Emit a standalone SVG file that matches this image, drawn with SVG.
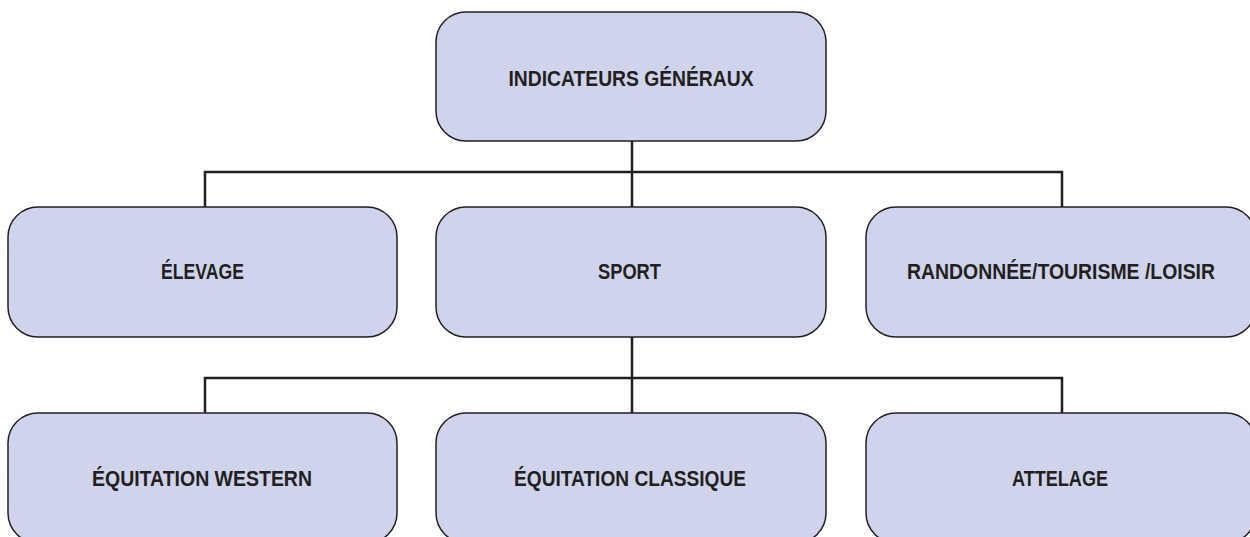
<svg xmlns="http://www.w3.org/2000/svg" width="1250" height="537" viewBox="0 0 1250 537">
<style>
.box{fill:#cfd4ec;stroke:#231f20;stroke-width:1.5}
.lbl{font-family:"Liberation Sans Narrow","Liberation Sans",Arial,sans-serif;font-weight:bold;font-size:22px;fill:#231f20;text-anchor:middle}
.con{fill:none;stroke:#231f20;stroke-width:2.5}
</style>
<rect width="1250" height="537" fill="#ffffff"/>
<g id="connectors">
<path class="con" d="M632,141 V172 M205,207 V172 H1062 V207 M632,172 V207"/>
<path class="con" d="M632,337 V378 M205,413 V378 H1062 V413 M632,378 V413"/>
</g>
<g id="n-indicateurs">
<rect class="box" x="436" y="12" width="390" height="129" rx="30"/>
<text class="lbl" x="631" y="86" textLength="245" lengthAdjust="spacingAndGlyphs">INDICATEURS GÉNÉRAUX</text>
</g>
<g id="n-elevage">
<rect class="box" x="8" y="207" width="389" height="130" rx="30"/>
<text class="lbl" x="202.5" y="279" textLength="83" lengthAdjust="spacingAndGlyphs">ÉLEVAGE</text>
</g>
<g id="n-sport">
<rect class="box" x="436" y="207" width="390" height="130" rx="30"/>
<text class="lbl" x="629.5" y="279" textLength="63" lengthAdjust="spacingAndGlyphs">SPORT</text>
</g>
<g id="n-randonnee">
<rect class="box" x="866" y="207" width="390" height="130" rx="30"/>
<text class="lbl" x="1061" y="279" textLength="308" lengthAdjust="spacingAndGlyphs">RANDONNÉE/TOURISME /LOISIR</text>
</g>
<g id="n-western">
<rect class="box" x="8" y="413" width="389" height="130" rx="30"/>
<text class="lbl" x="202" y="486" textLength="220" lengthAdjust="spacingAndGlyphs">ÉQUITATION WESTERN</text>
</g>
<g id="n-classique">
<rect class="box" x="436" y="413" width="390" height="130" rx="30"/>
<text class="lbl" x="630" y="486" textLength="232" lengthAdjust="spacingAndGlyphs">ÉQUITATION CLASSIQUE</text>
</g>
<g id="n-attelage">
<rect class="box" x="866" y="413" width="390" height="130" rx="30"/>
<text class="lbl" x="1060" y="486" textLength="96" lengthAdjust="spacingAndGlyphs">ATTELAGE</text>
</g>
</svg>
